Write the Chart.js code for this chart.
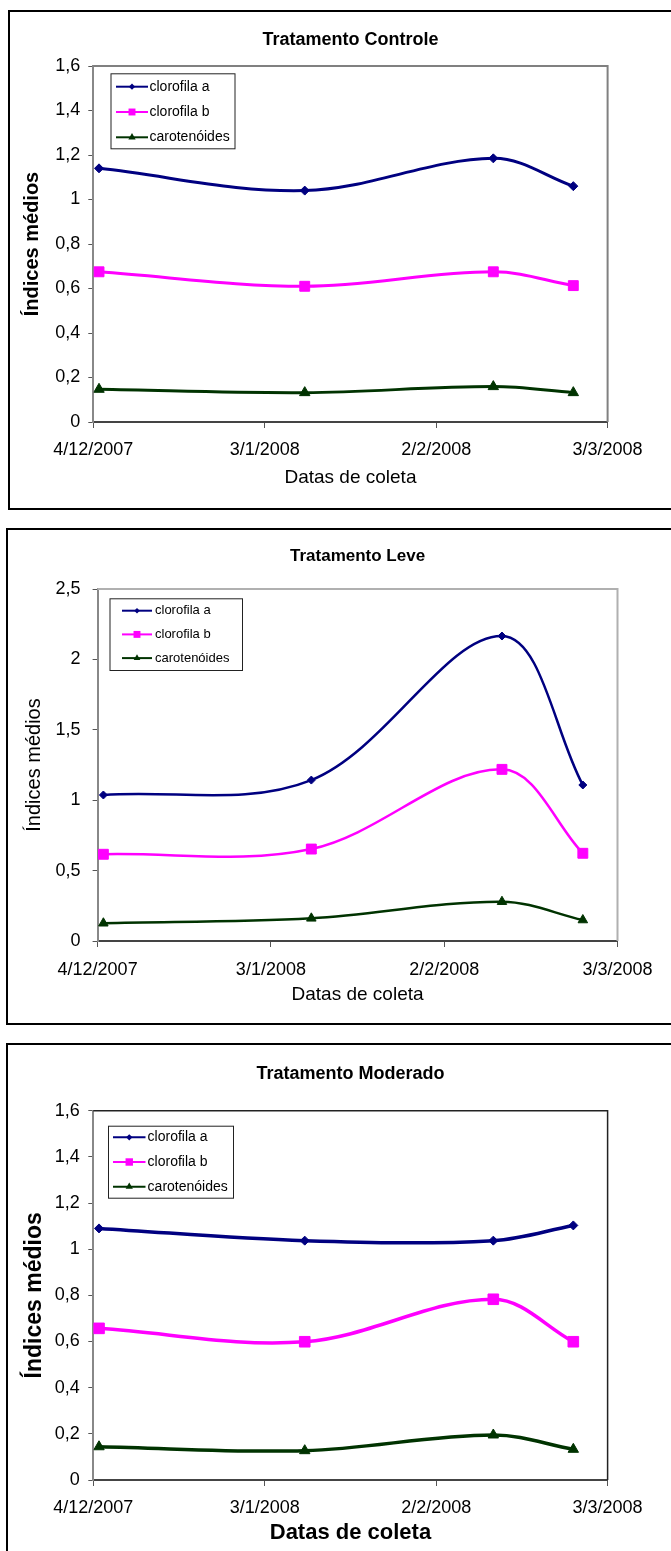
<!DOCTYPE html>
<html>
<head>
<meta charset="utf-8">
<script src="https://cdn.jsdelivr.net/npm/chart.js@4.4.1/dist/chart.umd.min.js"></script>
<style>
  body { margin: 0; width: 671px; height: 1551px; overflow: hidden; background: #fff; position: relative; }
  canvas { position: absolute; left: 0; }
  .frame { position: absolute; box-sizing: border-box; border: 2px solid #000; width: 720px; pointer-events: none; }
</style>
</head>
<body>
<canvas id="c1" width="671" height="500" style="top:10px"></canvas>
<canvas id="c2" width="671" height="497" style="top:528px"></canvas>
<canvas id="c3" width="671" height="508" style="top:1043px"></canvas>
<div class="frame" style="left:8px; top:10px; height:500px;"></div>
<div class="frame" style="left:6px; top:528px; height:497px;"></div>
<div class="frame" style="left:6px; top:1043px; height:600px;"></div>
<script>
// collection dates (x) and the date axis
const axisStart = '2007-12-04';
const collectionDates = ['2007-12-05', '2008-01-10', '2008-02-12', '2008-02-26'];
const xTickLabels = ['4/12/2007', '3/1/2008', '2/2/2008', '3/3/2008'];

const seriesNames = ['clorofila a', 'clorofila b', 'carotenóides'];
const seriesColors = ['#000080', '#ff00ff', '#003300'];
const seriesStyles = ['rectRot', 'rect', 'triangle'];

// Tratamento Controle
const controleA = [1.14, 1.04, 1.185, 1.06];
const controleB = [0.675, 0.61, 0.675, 0.613];
const controleC = [0.147, 0.132, 0.159, 0.132];

// Tratamento Leve
const leveA = [1.037, 1.143, 2.166, 1.108];
const leveB = [0.616, 0.653, 1.219, 0.623];
const leveC = [0.126, 0.161, 0.279, 0.149];

// Tratamento Moderado
const moderadoA = [1.09, 1.037, 1.037, 1.103];
const moderadoB = [0.657, 0.599, 0.783, 0.599];
const moderadoC = [0.144, 0.127, 0.195, 0.133];

const FONT = '"Liberation Sans", Arial, sans-serif';
Chart.defaults.font.family = FONT;
Chart.defaults.color = '#000';

function day_offset(d) {
  return (Date.parse(d) - Date.parse(axisStart)) / 86400000;
}
const xDays = collectionDates.map(day_offset);

function to_points(values) {
  return values.map((v, i) => ({ x: xDays[i], y: v }));
}

function comma(v) {
  return String(Math.round(v * 10) / 10).replace('.', ',');
}

function draw_marker(ctx, style, x, y, r) {
  ctx.beginPath();
  if (style === 'rect') {
    const s = r * Math.SQRT1_2;
    ctx.rect(x - s, y - s, 2 * s, 2 * s);
  } else if (style === 'rectRot') {
    ctx.moveTo(x, y - r);
    ctx.lineTo(x + r, y);
    ctx.lineTo(x, y + r);
    ctx.lineTo(x - r, y);
    ctx.closePath();
  } else {
    ctx.moveTo(x, y - r);
    ctx.lineTo(x + r * 0.866, y + r * 0.5);
    ctx.lineTo(x - r * 0.866, y + r * 0.5);
    ctx.closePath();
  }
  ctx.fill();
}

// boxed legend drawn inside the plot area, like the spreadsheet one
const legendBox = {
  id: 'legendBox',
  afterDatasetsDraw(chart, args, o) {
    const ctx = chart.ctx;
    ctx.save();
    ctx.fillStyle = '#fff';
    ctx.fillRect(o.x, o.y, o.w, o.h);
    ctx.strokeStyle = '#222';
    ctx.lineWidth = 1;
    ctx.strokeRect(o.x + 0.5, o.y + 0.5, o.w, o.h);
    ctx.font = o.fontSize + 'px ' + FONT;
    ctx.textBaseline = 'middle';
    chart.data.datasets.forEach((ds, i) => {
      const y = o.rowY0 + i * o.rowGap;
      ctx.strokeStyle = ds.borderColor;
      ctx.lineWidth = 2;
      ctx.beginPath();
      ctx.moveTo(o.lineX0, y);
      ctx.lineTo(o.lineX1, y);
      ctx.stroke();
      ctx.fillStyle = ds.borderColor;
      draw_marker(ctx, ds.pointStyle, (o.lineX0 + o.lineX1) / 2, y, ds.pointRadius * 0.7);
      ctx.fillStyle = '#000';
      ctx.fillText(ds.label, o.textX, y);
    });
    ctx.restore();
  }
};

// top and right edges of the plot area
const plotFrame = {
  id: 'plotFrame',
  beforeDatasetsDraw(chart, args, o) {
    const { left, right, top, bottom } = chart.chartArea;
    const ctx = chart.ctx;
    ctx.save();
    ctx.strokeStyle = o.color;
    ctx.lineWidth = o.width;
    ctx.beginPath();
    ctx.moveTo(left, top);
    ctx.lineTo(right, top);
    ctx.lineTo(right, bottom);
    ctx.stroke();
    ctx.restore();
  }
};

function make_panel(p) {
  const H = p.height;
  const padTop = 4, padLeft = 8, padBottom = 2;
  const tLH = p.titleSize * 1.2;
  const yLH = p.yTitle.size * 1.2;
  const xLH = p.xTitle.size * 1.2;
  const xAxisH = H - p.plot.bottom - padBottom;
  const titlePadTop = p.titleY - padTop - tLH / 2;
  const titlePadBottom = p.plot.top - padTop - titlePadTop - tLH;

  const datasets = p.values.map((vals, i) => ({
    label: seriesNames[i],
    data: to_points(vals),
    borderColor: seriesColors[i],
    backgroundColor: seriesColors[i],
    pointStyle: seriesStyles[i],
    pointRadius: p.radii[i],
    pointBorderWidth: 1,
    borderWidth: p.lineWidth,
    tension: 0.35,
    fill: false
  }));

  new Chart(document.getElementById(p.canvas), {
    type: 'line',
    data: { datasets: datasets },
    plugins: [plotFrame, legendBox],
    options: {
      responsive: false,
      animation: false,
      layout: { padding: { top: padTop, left: padLeft, bottom: padBottom, right: 671 - p.plot.right } },
      plugins: {
        legend: { display: false },
        tooltip: { enabled: false },
        title: {
          display: true,
          text: p.title,
          fullSize: false,
          font: { size: p.titleSize, weight: 'bold' },
          color: '#000',
          padding: { top: titlePadTop, bottom: titlePadBottom }
        },
        plotFrame: p.frame,
        legendBox: p.legend
      },
      scales: {
        x: {
          type: 'linear',
          min: 0,
          max: 90,
          afterFit: (s) => { s.height = xAxisH; },
          ticks: {
            stepSize: 30,
            padding: p.xTickPad,
            maxRotation: 0,
            font: { size: 18 },
            callback: (v) => xTickLabels[Math.round(v / 30)]
          },
          grid: { drawOnChartArea: false, tickLength: 6, tickColor: '#555' },
          border: { color: '#444', width: 2 },
          title: {
            display: true,
            text: 'Datas de coleta',
            font: { size: p.xTitle.size, weight: p.xTitle.weight },
            padding: { top: 0, bottom: (p.plot.bottom + xAxisH) - p.xTitle.y - xLH / 2 }
          }
        },
        y: {
          min: 0,
          max: p.yMax,
          afterFit: (s) => { s.width = p.plot.left - padLeft; },
          ticks: {
            stepSize: p.yStep,
            padding: p.yTickPad,
            font: { size: 18 },
            callback: (v) => comma(v)
          },
          grid: { drawOnChartArea: false, tickLength: 5, tickColor: '#555' },
          border: { color: '#888', width: 2 },
          title: {
            display: true,
            text: 'Índices médios',
            font: { size: p.yTitle.size, weight: p.yTitle.weight },
            padding: { top: p.yTitle.x - padLeft - yLH / 2, bottom: 0 }
          }
        }
      }
    }
  });
}

make_panel({
  canvas: 'c1', height: 500, title: 'Tratamento Controle', titleSize: 18, titleY: 30,
  values: [controleA, controleB, controleC], yMax: 1.6, yStep: 0.2,
  plot: { left: 93.3, right: 607.6, top: 56, bottom: 412 },
  xTickPad: 11, yTickPad: 8,
  xTitle: { size: 19, weight: 'normal', y: 468 },
  yTitle: { size: 20, weight: 'bold', x: 32 },
  radii: [4.5, 7, 6], lineWidth: 3,
  frame: { color: '#808080', width: 2 },
  legend: { x: 110.5, y: 63.3, w: 124, h: 75, lineX0: 116, lineX1: 148, textX: 149.5, rowY0: 76.7, rowGap: 25.3, fontSize: 14 }
});

make_panel({
  canvas: 'c2', height: 497, title: 'Tratamento Leve', titleSize: 17, titleY: 28.7,
  values: [leveA, leveB, leveC], yMax: 2.5, yStep: 0.5,
  plot: { left: 97.6, right: 617.5, top: 61, bottom: 413 },
  xTickPad: 12, yTickPad: 12,
  xTitle: { size: 19, weight: 'normal', y: 467 },
  yTitle: { size: 20, weight: 'normal', x: 34 },
  radii: [4, 7, 5.5], lineWidth: 2.5,
  frame: { color: '#b0b0b0', width: 2 },
  legend: { x: 109.5, y: 70.3, w: 132.5, h: 71.7, lineX0: 122, lineX1: 152, textX: 155, rowY0: 82.7, rowGap: 23.7, fontSize: 13 }
});

make_panel({
  canvas: 'c3', height: 508, title: 'Tratamento Moderado', titleSize: 18, titleY: 30.7,
  values: [moderadoA, moderadoB, moderadoC], yMax: 1.6, yStep: 0.2,
  plot: { left: 93.3, right: 607.6, top: 67.7, bottom: 437 },
  xTickPad: 11.5, yTickPad: 8.5,
  xTitle: { size: 22, weight: 'bold', y: 489.5 },
  yTitle: { size: 23, weight: 'bold', x: 35 },
  radii: [4.5, 7.5, 6], lineWidth: 3.5,
  frame: { color: '#222', width: 1.5 },
  legend: { x: 108, y: 82.7, w: 125, h: 72, lineX0: 113, lineX1: 145.5, textX: 147.6, rowY0: 94.3, rowGap: 24.7, fontSize: 14 }
});
</script>
</body>
</html>
